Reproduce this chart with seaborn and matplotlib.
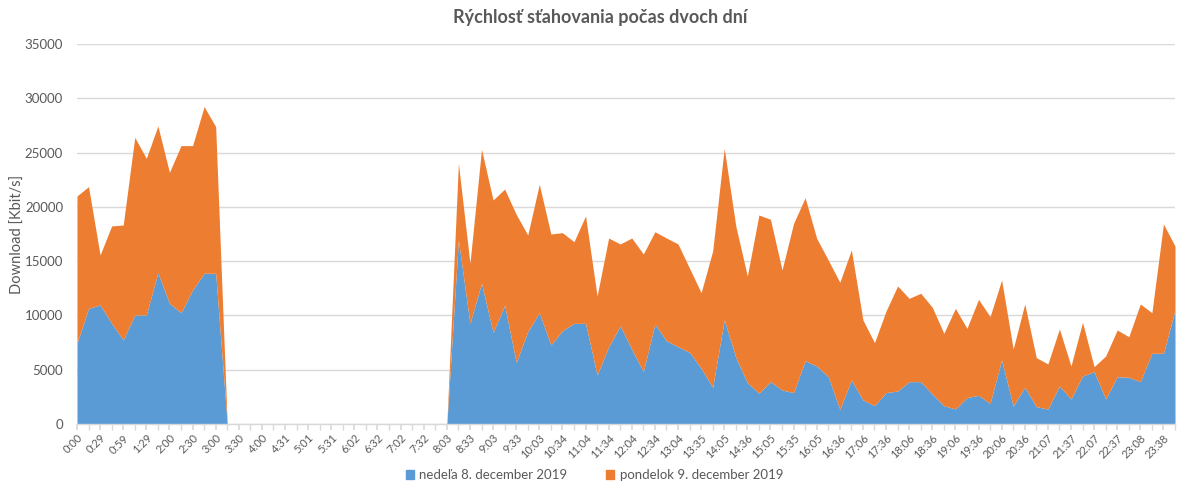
import numpy as np
import pandas as pd
import matplotlib
matplotlib.use("Agg")
import matplotlib.pyplot as plt
import seaborn as sns

title = "Rýchlosť sťahovania počas dvoch dní"
ylabel = "Download [Kbit/s]"
series_names = ["nedeľa 8. december 2019", "pondelok 9. december 2019"]

time_labels = ["0:00", "0:29", "0:59", "1:29", "2:00", "2:30", "3:00", "3:30", "4:00", "4:31",
               "5:01", "5:31", "6:02", "6:32", "7:02", "7:32", "8:03", "8:33", "9:03", "9:33",
               "10:03", "10:34", "11:04", "11:34", "12:04", "12:34", "13:04", "13:35", "14:05", "14:36",
               "15:05", "15:35", "16:05", "16:36", "17:06", "17:36", "18:06", "18:36", "19:06", "19:36",
               "20:06", "20:36", "21:07", "21:37", "22:07", "22:37", "23:08", "23:38"]

nedela = [7430, 10650, 10960, 9270, 7740, 10040, 10040, 13940, 11110, 10250, 12340, 13880, 13880,
          0, 0, 0, 0, 0, 0, 0, 0, 0, 0, 0, 0, 0, 0, 0, 0, 0, 0, 0, 0,
          16950, 9270, 12960, 8440, 10930, 5680, 8500, 10250, 7280, 8600, 9270, 9270, 4510, 7120,
          9030, 6880, 4820, 9210, 7670, 7120, 6600, 5130, 3380, 9580, 6140, 3810, 2830, 3900,
          3130, 2890, 5830, 5340, 4360,
          1350, 4050, 2210, 1690, 2890, 3040, 3900, 3900, 2760, 1690, 1380, 2430, 2640, 1900,
          5890, 1660, 3380, 1600, 1380, 3500, 2300, 4420, 4820, 2300, 4360, 4300, 3900, 6510,
          6510, 10500]

pondelok = [13570, 11210, 4610, 8970, 10590, 16360, 14430, 13510, 12070, 15390, 13300, 15350, 13510,
            0, 0, 0, 0, 0, 0, 0, 0, 0, 0, 0, 0, 0, 0, 0, 0, 0, 0, 0, 0,
            7060, 5530, 12340, 12190, 10710, 13630, 8910, 11820, 10220, 9020, 7520, 9890, 7280, 10010,
            7550, 10250, 10840, 8500, 9460, 9460, 7740, 6960, 12550, 15810, 12100, 9820, 16420, 14950,
            11050, 15590, 15010, 11760, 10740,
            11700, 11980, 7370, 5800, 7520, 9670, 7670, 8140, 7990, 6660, 9270, 6380, 8840, 7990,
            7370, 5250, 7670, 4510, 4150, 5250, 3040, 4950, 460, 3960, 4300, 3740, 7150, 3740,
            11910, 5890]

colors = ["#5B9BD5", "#ED7D31"]

df = pd.DataFrame({series_names[0]: nedela, series_names[1]: pondelok})
x = np.arange(len(df))

sns.set_theme(style="white")
plt.rcParams['font.family'] = ['Lato', 'DejaVu Sans']

fig = plt.figure(figsize=(11.77, 4.86), dpi=100)
ax = fig.add_axes([0.0654, 0.1276, 0.9329, 0.7819])

ax.stackplot(x, df[series_names[0]], df[series_names[1]], colors=colors,
             labels=series_names, linewidth=0, zorder=2)

ax.set_xlim(0, len(df) - 1)
ax.set_ylim(0, 35000)
ax.set_yticks(np.arange(0, 35001, 5000))
ax.yaxis.grid(True, color="#D9D9D9", linewidth=1, zorder=0)
ax.set_axisbelow(True)
ax.tick_params(axis='y', length=0, labelsize=9.5, labelcolor="#595959", pad=10)

ax.set_xticks(x, minor=True)
ax.set_xticks(x[::2])
ax.set_xticklabels(time_labels, rotation=45, ha='right', rotation_mode='anchor')
ax.tick_params(axis='x', which='both', length=4, color="#D9D9D9", bottom=True,
               labelsize=8, labelcolor="#595959", pad=2)

sns.despine(ax=ax, left=True, top=True, right=True)
ax.spines['bottom'].set_color("#D9D9D9")
ax.spines['bottom'].set_linewidth(1)

ax.set_ylabel(ylabel, fontsize=10.5, color="#595959")
ax.yaxis.set_label_coords(-0.047, 0.5)
fig.text(0.51, 0.965, title, ha='center', va='center', fontsize=13,
         fontweight='bold', color="#595959")

handles = [plt.Rectangle((0, 0), 1, 1, color=c) for c in colors]
fig.legend(handles, series_names, loc='center', bbox_to_anchor=(0.505, 0.022),
           ncol=2, frameon=False, fontsize=9.5, labelcolor="#595959",
           handlelength=0.6, handleheight=0.6, handletextpad=0.4, columnspacing=3)

fig.savefig("out.png", dpi=100)
